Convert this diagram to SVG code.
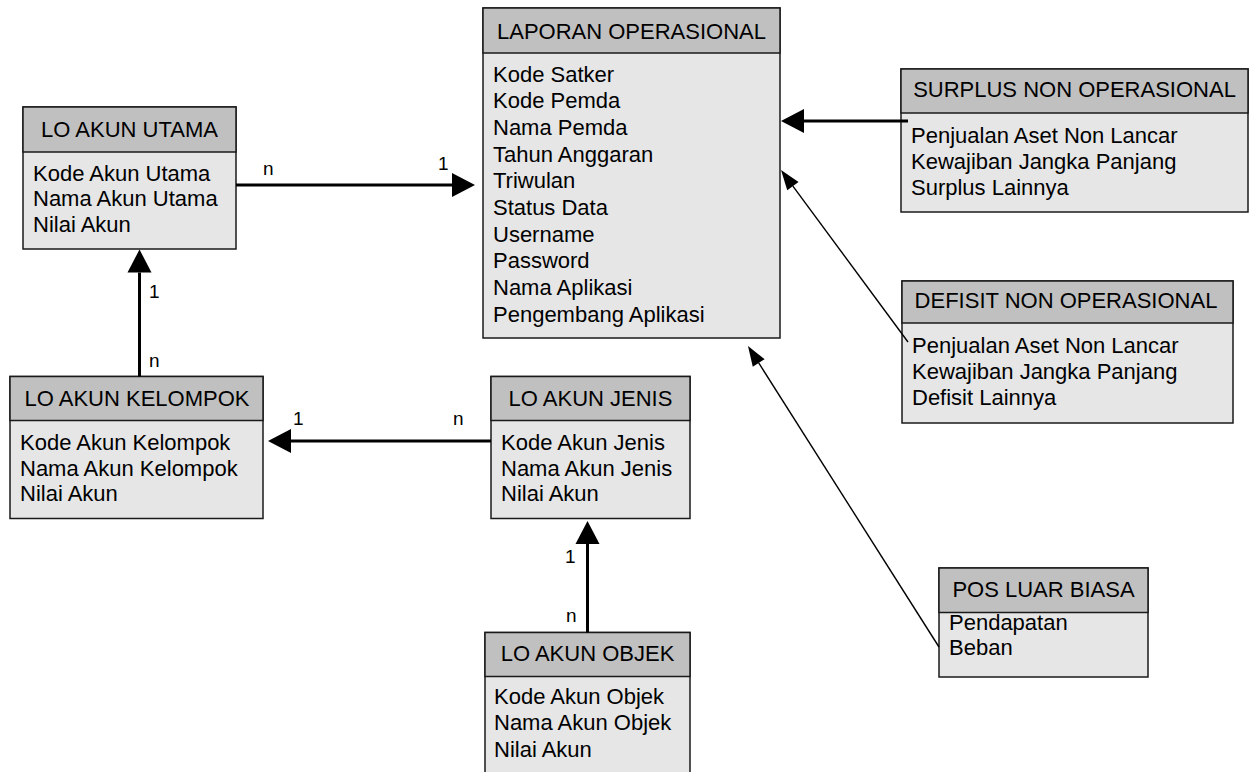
<svg xmlns="http://www.w3.org/2000/svg" width="1250" height="772" viewBox="0 0 1250 772">
<style>
.hd{fill:#c0c0c0;stroke:#1a1a1a;stroke-width:1.5}
.bd{fill:#e6e6e6;stroke:#1a1a1a;stroke-width:1.5}
text{font-family:"Liberation Sans",Arial,sans-serif;fill:#000}
.t{font-size:22px}
.c{text-anchor:middle}
.lb{font-size:19px}
.k{stroke:#000;stroke-width:3;fill:none}
.s{stroke:#000;stroke-width:1.4;fill:none}
</style>
<defs>
<marker id="ah" markerUnits="userSpaceOnUse" markerWidth="23" markerHeight="24" refX="0" refY="12" orient="auto" overflow="visible"><path d="M0,0 L23,12 L0,24 z" fill="#000"/></marker>
<marker id="as" markerUnits="userSpaceOnUse" markerWidth="20" markerHeight="14" refX="0" refY="7" orient="auto" overflow="visible"><path d="M0,0 L20,7 L0,14 z" fill="#000"/></marker>
</defs>
<rect width="1250" height="772" fill="#fff"/>

<g id="laporan">
<rect class="bd" x="483" y="8" width="297" height="330"/>
<rect class="hd" x="483" y="8" width="297" height="45"/>
<text class="t c" x="631.5" y="38.5">LAPORAN OPERASIONAL</text>
<text class="t" x="493" y="81.5">Kode Satker</text>
<text class="t" x="493" y="108.2">Kode Pemda</text>
<text class="t" x="493" y="134.9">Nama Pemda</text>
<text class="t" x="493" y="161.6">Tahun Anggaran</text>
<text class="t" x="493" y="188.3">Triwulan</text>
<text class="t" x="493" y="215">Status Data</text>
<text class="t" x="493" y="241.7">Username</text>
<text class="t" x="493" y="268.4">Password</text>
<text class="t" x="493" y="295.1">Nama Aplikasi</text>
<text class="t" x="493" y="321.8">Pengembang Aplikasi</text>
</g>

<g id="utama">
<rect class="bd" x="23" y="107" width="213" height="142"/>
<rect class="hd" x="23" y="107" width="213" height="45"/>
<text class="t c" x="129.5" y="137">LO AKUN UTAMA</text>
<text class="t" x="33" y="180.5">Kode Akun Utama</text>
<text class="t" x="33" y="206">Nama Akun Utama</text>
<text class="t" x="33" y="231.5">Nilai Akun</text>
</g>

<g id="surplus">
<rect class="bd" x="901" y="69" width="347" height="143"/>
<rect class="hd" x="901" y="69" width="347" height="44"/>
<text class="t c" x="1074.5" y="97">SURPLUS NON OPERASIONAL</text>
<text class="t" x="911" y="142.5">Penjualan Aset Non Lancar</text>
<text class="t" x="911" y="168.5">Kewajiban Jangka Panjang</text>
<text class="t" x="911" y="194.5">Surplus Lainnya</text>
</g>

<g id="defisit">
<rect class="bd" x="902" y="281" width="331" height="142"/>
<rect class="hd" x="902" y="281" width="331" height="42"/>
<text class="t c" x="1066" y="308">DEFISIT NON OPERASIONAL</text>
<text class="t" x="912" y="352.5">Penjualan Aset Non Lancar</text>
<text class="t" x="912" y="378.5">Kewajiban Jangka Panjang</text>
<text class="t" x="912" y="404.5">Defisit Lainnya</text>
</g>

<g id="kelompok">
<rect class="bd" x="10" y="376.5" width="253" height="142"/>
<rect class="hd" x="10" y="376.5" width="253" height="44"/>
<text class="t c" x="137" y="406">LO AKUN KELOMPOK</text>
<text class="t" x="20" y="450">Kode Akun Kelompok</text>
<text class="t" x="20" y="475.5">Nama Akun Kelompok</text>
<text class="t" x="20" y="501">Nilai Akun</text>
</g>

<g id="jenis">
<rect class="bd" x="491" y="376.5" width="199" height="142"/>
<rect class="hd" x="491" y="376.5" width="199" height="44"/>
<text class="t c" x="590.5" y="405.5">LO AKUN JENIS</text>
<text class="t" x="501" y="450">Kode Akun Jenis</text>
<text class="t" x="501" y="475.5">Nama Akun Jenis</text>
<text class="t" x="501" y="501">Nilai Akun</text>
</g>

<g id="objek">
<rect class="bd" x="485" y="632.5" width="205" height="150"/>
<rect class="hd" x="485" y="632.5" width="205" height="44"/>
<text class="t c" x="587.5" y="660.5">LO AKUN OBJEK</text>
<text class="t" x="494" y="704">Kode Akun Objek</text>
<text class="t" x="494" y="730">Nama Akun Objek</text>
<text class="t" x="494" y="756.5">Nilai Akun</text>
</g>

<g id="pos">
<rect class="bd" x="939" y="568" width="209" height="109"/>
<rect class="hd" x="939" y="568" width="209" height="44.5"/>
<text class="t c" x="1043.5" y="597">POS LUAR BIASA</text>
<text class="t" x="949" y="630">Pendapatan</text>
<text class="t" x="949" y="654.5">Beban</text>
</g>

<g id="connectors">
<line class="k" x1="236" y1="185" x2="452" y2="185" marker-end="url(#ah)"/>
<line class="k" x1="139.5" y1="376.5" x2="139.5" y2="272.5" marker-end="url(#ah)"/>
<line class="k" x1="491" y1="441" x2="291" y2="441" marker-end="url(#ah)"/>
<line class="k" x1="587.5" y1="632.5" x2="587.5" y2="544" marker-end="url(#ah)"/>
<line class="k" x1="908" y1="121" x2="804" y2="121" marker-end="url(#ah)"/>
<line class="s" x1="908" y1="342" x2="792.9" y2="186.1" marker-end="url(#as)"/>
<line class="s" x1="939" y1="647" x2="758.7" y2="362.9" marker-end="url(#as)"/>
<text class="lb" x="263" y="175">n</text>
<text class="lb" x="438" y="170">1</text>
<text class="lb" x="149" y="298">1</text>
<text class="lb" x="149" y="367">n</text>
<text class="lb" x="293" y="425">1</text>
<text class="lb" x="453" y="425">n</text>
<text class="lb" x="565" y="563">1</text>
<text class="lb" x="566" y="622">n</text>
</g>
</svg>
